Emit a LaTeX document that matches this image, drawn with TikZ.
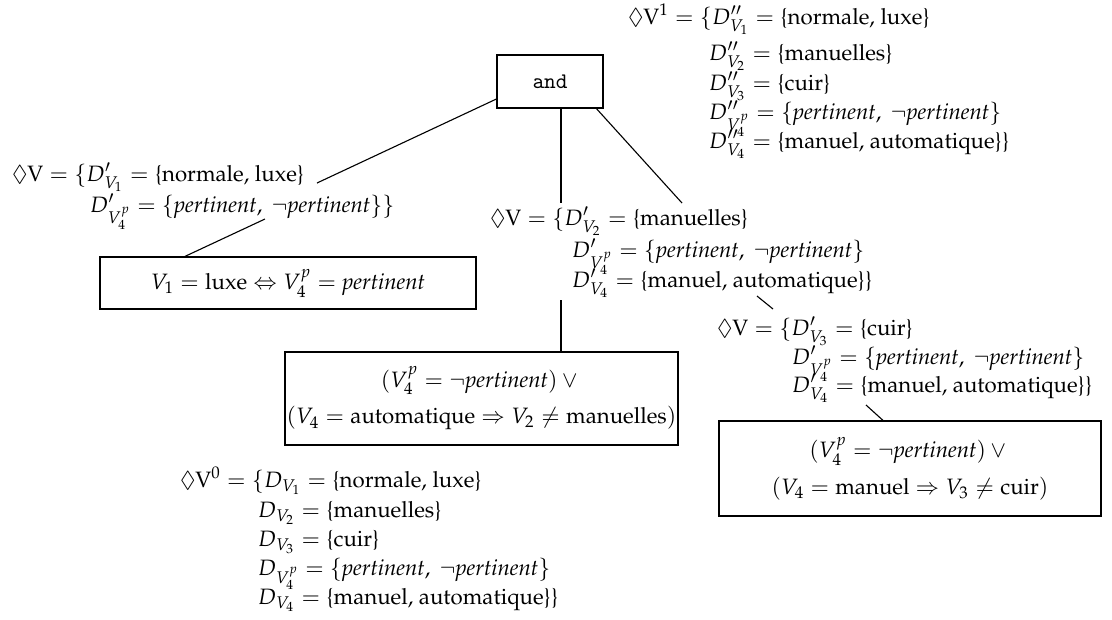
\documentclass[tikz,border=0pt]{standalone}
\usepackage[T1]{fontenc}
\usepackage{mathpazo}
\usepackage{amsmath}
\usepackage{amssymb}
\newcommand{\pert}{\textit{pertinent}}
\newcommand{\pset}{\{\pert,\ \neg\pert\}}
\newcommand{\optt}[1]{{\fontencoding{OT1}\fontfamily{cmtt}\selectfont #1}}
\begin{document}
\begin{tikzpicture}[x=0.45pt,y=-0.45pt,
  every node/.style={inner sep=0pt, outer sep=0pt},
  txt/.style={anchor=base west, font=\fontsize{10}{12}\selectfont},
  box/.style={draw, line width=0.5pt, align=center, font=\fontsize{10}{12}\selectfont},
  link/.style={line width=0.5pt}]
\useasboundingbox (0,0) rectangle (1112,619);

% root of the search tree
\node[box, minimum width=47.7pt, minimum height=23.85pt] (andbox) at (550,81.5) {\optt{and}};

% domains after the first propagation
\node[txt] (s1a) at (628,24) {$\Diamond\mathrm{V}^1 = \{D''_{V_1} = \text{\{normale, luxe\}}$};
\node[txt] (s1b) at (709,60) {$D''_{V_2} = \text{\{manuelles\}}$};
\node[txt] (s1c) at (709,90) {$D''_{V_3} = \text{\{cuir\}}$};
\node[txt] (s1d) at (709,119) {$D''_{V_4^p} = \pset$};
\node[txt] (s1e) at (709,148) {$D''_{V_4} = \text{\{manuel, automatique\}\}}$};

% left branch
\node[txt] (la) at (12,181) {$\Diamond\mathrm{V} = \{D'_{V_1} = \text{\{normale, luxe\}}$};
\node[txt] (lb) at (90,212) {$D'_{V_4^p} = \pset\}$};
\node[box, minimum width=169.2pt, minimum height=23.4pt] (c1) at (288,283)
  {$V_1 = \text{luxe} \Leftrightarrow V_4^p = \pert$};

% middle branch
\node[txt] (ma) at (490,225) {$\Diamond\mathrm{V} = \{D'_{V_2} = \text{\{manuelles\}}$};
\node[txt] (mb) at (572,257) {$D'_{V_4^p} = \pset$};
\node[txt] (mc) at (572,287) {$D'_{V_4} = \text{\{manuel, automatique\}\}}$};
\node[box, minimum width=176.85pt, minimum height=41.85pt] (c2) at (481.5,398.5)
  {$(V_4^p = \neg\pert) \vee {}$\\[4.5pt]
   $(V_4 = \text{automatique} \Rightarrow V_2 \neq \text{manuelles})$};

% right branch
\node[txt] (ra) at (717,335) {$\Diamond\mathrm{V} = \{D'_{V_3} = \text{\{cuir\}}$};
\node[txt] (rb) at (792,364) {$D'_{V_4^p} = \pset$};
\node[txt] (rc) at (792,392) {$D'_{V_4} = \text{\{manuel, automatique\}\}}$};
\node[box, minimum width=171.9pt, minimum height=42.75pt] (c3) at (910,468.5)
  {$(V_4^p = \neg\pert) \vee {}$\\[4.5pt]
   $(V_4 = \text{manuel} \Rightarrow V_3 \neq \text{cuir})$};

% initial domains
\node[txt] (s0a) at (180,487) {$\Diamond\mathrm{V}^0 = \{D_{V_1} = \text{\{normale, luxe\}}$};
\node[txt] (s0b) at (258,517) {$D_{V_2} = \text{\{manuelles\}}$};
\node[txt] (s0c) at (258,546) {$D_{V_3} = \text{\{cuir\}}$};
\node[txt] (s0d) at (258,575) {$D_{V_4^p} = \pset$};
\node[txt] (s0e) at (258,604) {$D_{V_4} = \text{\{manuel, automatique\}\}}$};

% free ends of the tree edges, next to the domain sets
\coordinate (e1) at (317,183);
\coordinate (e2) at (265,219);
\coordinate (e3) at (561,203);
\coordinate (e4) at (682,203);
\coordinate (e5) at (561,300);
\coordinate (e6a) at (757,296);
\coordinate (e6b) at (773,309);
\coordinate (e7) at (866,405);

% tree edges
\draw[link] (andbox.198) -- (e1);
\draw[link] (e2) -- (c1.166);
\draw[link] (andbox.south -| e3) -- (e3);
\draw[link] (andbox.-30) -- (e4);
\draw[link] (e5) -- (c2.north -| e5);
\draw[link] (e6a) -- (e6b);
\draw[link] (e7) -- (c3.119.6);
\end{tikzpicture}
\end{document}
